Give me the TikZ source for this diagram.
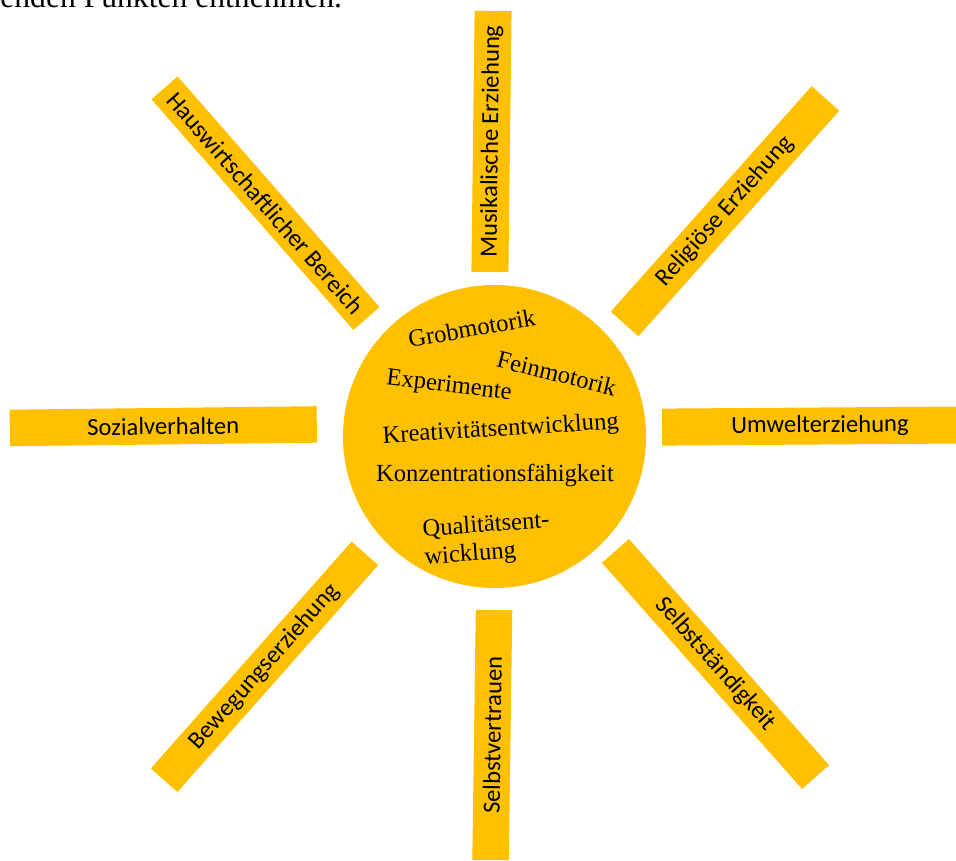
\documentclass[tikz,border=0pt]{standalone}
\usepackage{fontspec}
\setmainfont{Liberation Serif}
\newfontfamily\rayfont{Carlito}
\definecolor{sunyellow}{HTML}{FFC000}
\tikzset{
  sunray/.style={fill=sunyellow,inner sep=0pt,font=\rayfont\fontsize{14}{16}\selectfont},
  sunword/.style={inner sep=0pt,font=\fontsize{14}{16}\selectfont,align=left}
}
\begin{document}
\begin{tikzpicture}[x=0.02cm,y=-0.02cm]
\clip (0,0) rectangle (956,861);

%%%Line of text above, cut off
\node[anchor=base west,inner sep=0pt,font=\fontsize{18}{20}\selectfont] (intro) at (0,8) {enden Punkten entnehmen.};

%%%Rays
%centre x/centre y/angle/length/width/label
\foreach \x/\y/\a/\l/\w/\t [count=\i] in {491.5/141.5/89.3/261/37/Musikalische Erziehung,725/211.2/48.3/302/37/Religiöse Erziehung,820/426/0.4/316/37/Umwelterziehung,715.5/664/-48.5/302/36/Selbstständigkeit,492.3/735/89.2/250/36.5/Selbstvertrauen,264.5/666.8/48.5/303/35.5/Bewegungserziehung,163.3/426.2/0.65/307/36.5/Sozialverhalten,265.5/203.2/-48.8/306.5/34.7/Hauswirtschaftlicher Bereich} \node[sunray,rotate=\a,minimum width=\l*0.02cm,minimum height=\w*0.02cm] (ray\i) at (\x,\y) {\t};

%%%Sun
\node[circle,fill=sunyellow,inner sep=0pt,minimum size=303*0.02cm] (sun) at (494.5,436.5) {};
%Words in the sun
\foreach \x/\y/\a/\t [count=\i] in {471.7/328.3/10/Grobmotorik,556.7/373.3/-14/Feinmotorik,449/386.7/-7/Experimente,500.7/430/3.5/Kreativitätsentwicklung,495/475/0/Konzentrationsfähigkeit,487/540/4/{Qualitätsent-\\wicklung}} \node[sunword,rotate=\a] (word\i) at (\x,\y) {\t};

\end{tikzpicture}
\end{document}
